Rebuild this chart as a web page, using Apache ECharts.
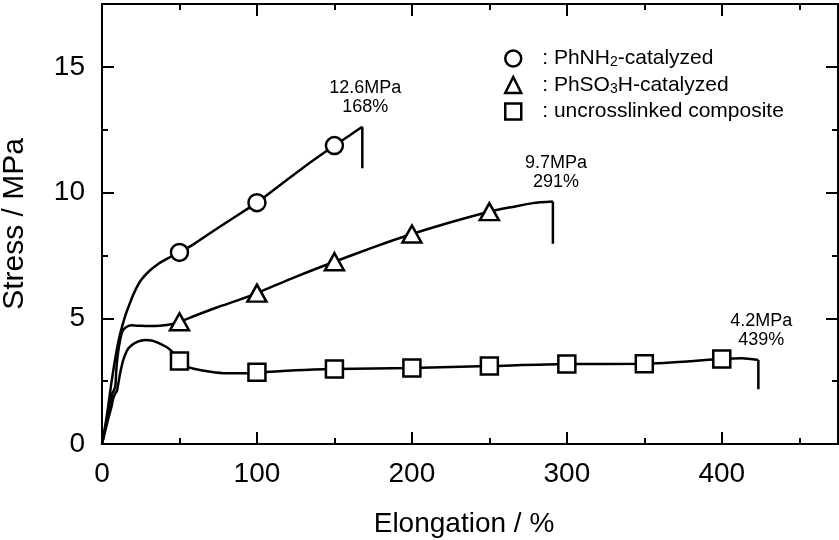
<!DOCTYPE html>
<html><head><meta charset="utf-8">
<script src="https://cdn.jsdelivr.net/npm/echarts@6/dist/echarts.min.js"></script>
<style>html,body{margin:0;padding:0;background:#fff}#c{width:839px;height:540px}</style>
</head><body><div id="c"></div>
<script>
const FONT = "'Liberation Sans', Arial, sans-serif";

// ---- data ----
const seriesNames = ['PhNH2-catalyzed', 'PhSO3H-catalyzed', 'uncrosslinked composite'];
const nh2Curve = [[0,0],[2,0.7],[4,1.5],[6,2.4],[8,3.2],[10,3.9],[12,4.45],[15,5.1],[18,5.6],[21,6.05],[25,6.5],[30,6.85],[36,7.15],[43,7.4],[50,7.62],[60,7.98],[75,8.6],[90,9.2],[100,9.6],[115,10.3],[130,11.0],[150,11.87],[160,12.28],[168,12.62]];
const so3hCurve = [[0,0],[2,0.6],[4,1.2],[5.5,1.6],[6.6,2.0],[7.8,2.15],[8.6,2.3],[9.4,3.1],[10.5,3.7],[11.6,4.1],[13,4.45],[15,4.62],[19,4.72],[25,4.7],[30,4.69],[37,4.7],[43,4.74],[50,4.86],[62,5.15],[75,5.45],[88,5.72],[100,6.0],[125,6.65],[150,7.25],[175,7.82],[200,8.35],[225,8.82],[250,9.24],[265,9.43],[278,9.58],[291,9.64]];
const uncCurve = [[0,0],[2,0.5],[4,1.0],[6,1.45],[7.2,1.8],[8.6,2.02],[9.6,2.1],[10.5,2.4],[12,2.9],[13.7,3.34],[16,3.7],[18,3.87],[23,4.07],[28,4.14],[32,4.12],[36,4.03],[43,3.8],[47,3.55],[50,3.3],[55,3.08],[60,2.98],[70,2.87],[80,2.81],[90,2.81],[100,2.84],[125,2.93],[150,2.98],[175,3.0],[200,3.02],[250,3.1],[300,3.18],[350,3.19],[400,3.38],[413,3.41],[423.6,3.34]];
const nh2Drop = [[168,12.62],[168,10.97]];
const so3hDrop = [[291,9.64],[291,7.96]];
const uncDrop = [[423.6,3.34],[423.6,2.18]];
const nh2Marks = [[50,7.62],[100,9.6],[150,11.87]];
const so3hMarks = [[50,4.86],[100,6.0],[150,7.25],[200,8.35],[250,9.24]];
const uncMarks = [[50,3.3],[100,2.85],[150,2.98],[200,3.02],[250,3.1],[300,3.18],[350,3.19],[400,3.38]];
const breakPoints = [[168,12.62],[291,9.64],[423.6,3.34]];
const breakTexts = ['12.6MPa\n168%', '9.7MPa\n291%', '4.2MPa\n439%'];
const xTickMajor = 100, xTickMinor = 50, xMax = 475;
const yTickMajor = 5, yTickMinor = 2.5, yMax = 17.5;

// ---- chart ----
const chart = echarts.init(document.getElementById('c'), null, {renderer: 'canvas'});
const black = '#000';
function xAxis(pos, interval, len, withLabels) {
  return {
    type: 'value', position: pos, min: 0, max: xMax, interval: interval,
    axisLine: {show: true, onZero: false, lineStyle: {color: black, width: 2}},
    axisTick: {show: true, inside: true, length: len, lineStyle: {color: black, width: 2}},
    splitLine: {show: false},
    axisLabel: {show: withLabels, margin: 16, color: black, fontFamily: FONT, fontSize: 28,
      formatter: v => (v % xTickMajor === 0 ? String(v) : '')},
    name: withLabels ? 'Elongation / %' : '', nameLocation: 'middle', nameGap: 66,
    nameTextStyle: {color: black, fontFamily: FONT, fontSize: 28, padding: [0, 12, 0, 0]}
  };
}
function yAxis(pos, interval, len, withLabels) {
  return {
    type: 'value', position: pos, min: 0, max: yMax, interval: interval,
    axisLine: {show: true, onZero: false, lineStyle: {color: black, width: 2}},
    axisTick: {show: true, inside: true, length: len, lineStyle: {color: black, width: 2}},
    splitLine: {show: false},
    axisLabel: {show: withLabels, margin: 17, color: black, fontFamily: FONT, fontSize: 28,
      formatter: v => (v % yTickMajor === 0 ? String(v) : '')},
    name: withLabels ? 'Stress / MPa' : '', nameLocation: 'middle', nameGap: 72,
    nameTextStyle: {color: black, fontFamily: FONT, fontSize: 30}
  };
}
const markerStyle = {color: '#fff', borderColor: black, borderWidth: 2.5, opacity: 1};
function curve(data) {
  return {type: 'line', data: data, smooth: 0.25, showSymbol: false, symbol: 'none',
    lineStyle: {color: black, width: 2.5}, silent: true, z: 2, xAxisIndex: 0, yAxisIndex: 0};
}
function drop(data) {
  return {type: 'line', data: data, smooth: false, showSymbol: false, symbol: 'none',
    lineStyle: {color: black, width: 2.5}, silent: true, z: 2, xAxisIndex: 0, yAxisIndex: 0};
}
function marks(name, data, symbol, size) {
  return {type: 'scatter', name: name, data: data, symbol: symbol, symbolSize: size,
    itemStyle: markerStyle, z: 3, silent: true, xAxisIndex: 0, yAxisIndex: 0};
}
const legendLabels = {
  'PhNH2-catalyzed': '{c|:}{t| PhNH}{s|2}{t|-catalyzed}',
  'PhSO3H-catalyzed': '{c|:}{t| PhSO}{s|3}{t|H-catalyzed}',
  'uncrosslinked composite': '{c|:}{t| uncrosslinked composite}'
};
const legendIcons = ['circle', 'triangle', 'rect'];

chart.setOption({
  animation: false,
  backgroundColor: '#fff',
  grid: {left: 102, right: 1, top: 4, bottom: 96, containLabel: false, outerBoundsMode: 'none'},
  xAxis: [xAxis('bottom', xTickMajor, 12, true), xAxis('bottom', xTickMinor, 6, false),
          xAxis('top', xTickMajor, 12, false), xAxis('top', xTickMinor, 6, false)],
  yAxis: [yAxis('left', yTickMajor, 12, true), yAxis('left', yTickMinor, 6, false),
          yAxis('right', yTickMajor, 12, false), yAxis('right', yTickMinor, 6, false)],
  legend: {
    orient: 'vertical', left: 499, top: 43, itemWidth: 16, itemHeight: 16, itemGap: 5,
    selectedMode: false,
    data: seriesNames.map((n, i) => ({name: n, icon: legendIcons[i],
      itemStyle: {color: '#fff', borderColor: black, borderWidth: 2.5, opacity: 1}})),
    formatter: n => legendLabels[n],
    textStyle: {
      color: black, fontFamily: FONT, fontSize: 21,
      rich: {
        c: {fontFamily: FONT, fontSize: 21, color: black, padding: [0, 0, 0, 16], lineHeight: 22},
        t: {fontFamily: FONT, fontSize: 21, color: black, lineHeight: 22},
        s: {fontFamily: FONT, fontSize: 14, color: black, verticalAlign: 'bottom', lineHeight: 14}
      }
    }
  },
  series: [
    curve(nh2Curve), curve(so3hCurve), curve(uncCurve),
    drop(nh2Drop), drop(so3hDrop), drop(uncDrop),
    marks(seriesNames[0], nh2Marks, 'circle', 17),
    marks(seriesNames[1], so3hMarks, 'triangle', [19, 17]),
    marks(seriesNames[2], uncMarks, 'rect', 17),
    {type: 'scatter', data: breakPoints.map((p, i) => ({value: p, label: {formatter: breakTexts[i]}})),
      symbol: 'circle', symbolSize: 1, itemStyle: {color: 'rgba(0,0,0,0)', opacity: 1}, silent: true, z: 4,
      label: {show: true, position: 'top', distance: 0, offset: [3, -10], align: 'center',
        color: '#000', opacity: 1, fontFamily: FONT, fontSize: 18, lineHeight: 19}}
  ]
});
</script></body></html>
